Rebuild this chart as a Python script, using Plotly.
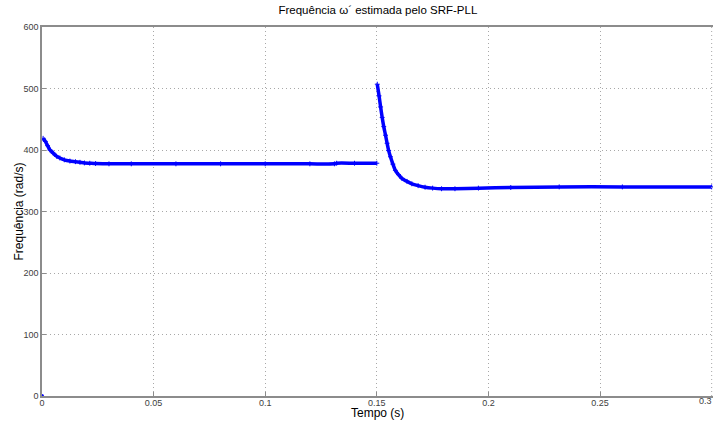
import plotly.graph_objects as go

# Segment 1 (before the step) : time (s) and estimated frequency (rad/s)
t1 = [0.0005, 0.0015, 0.0025, 0.0036, 0.0050, 0.0065, 0.0080, 0.0100, 0.0125, 0.0150,
      0.0170, 0.0190, 0.0214, 0.0240, 0.0300, 0.0400, 0.0600, 0.0800, 0.1000, 0.1200,
      0.1310, 0.1320, 0.1400, 0.1500]
v1 = [419, 414, 407, 400, 395, 390, 387, 384, 382, 381,
      380, 379, 378.5, 378, 377.5, 377.5, 377.5, 377.5, 377.5, 377.5,
      377.5, 378.5, 378.5, 378.5]

# Segment 2 (after the step)
t2 = [0.1502, 0.1510, 0.1517, 0.1524, 0.1531, 0.1539, 0.1546, 0.1553, 0.1561, 0.1572,
      0.1583, 0.1597, 0.1612, 0.1635, 0.1657, 0.1685, 0.1716, 0.1750, 0.1790, 0.1850,
      0.1955, 0.2100, 0.2317, 0.2600, 0.3000]
v2 = [507, 488, 470, 453, 438, 424, 411, 399, 389, 377,
      367, 360, 354, 349, 345, 342, 339.5, 338, 337, 337,
      338, 339, 340, 340, 340]

# isolated first sample at the origin
t0 = [0.0]
v0 = [0.0]

x_ticks = [0, 0.05, 0.1, 0.15, 0.2, 0.25]
x_tick_text = ["0", "0.05", "0.1", "0.15", "0.2", "0.25"]
x_last_tick = 0.3
x_last_text = "0.3"
y_ticks = [0, 100, 200, 300, 400, 500, 600]

blue = "#0000ff"
fig = go.Figure()
for t, v in ((t1, v1), (t2, v2)):
    fig.add_trace(go.Scatter(x=t, y=v, mode="lines+markers",
                             line=dict(color=blue, width=3.5, shape="spline", smoothing=0.6),
                             marker=dict(color=blue, size=3.5, symbol="cross-thin",
                                         line=dict(color=blue, width=1)),
                             showlegend=False, hoverinfo="skip"))
fig.add_trace(go.Scatter(x=t0, y=v0, mode="markers",
                         marker=dict(color=blue, size=4), showlegend=False,
                         cliponaxis=False, hoverinfo="skip"))

font = "Liberation Sans, Arial, sans-serif"
fig.update_layout(
    width=713, height=421,
    margin=dict(l=42, r=0, t=27, b=25),
    paper_bgcolor="white", plot_bgcolor="white",
    font=dict(family=font, color="#000000"),
    title=dict(text="Frequência ω´ estimada pelo SRF-PLL", x=0.53, xanchor="center",
               y=0.985, yanchor="top", font=dict(size=11.5, family=font, color="#000")),
    xaxis=dict(range=[0, 0.3006], tickvals=x_ticks, ticktext=x_tick_text,
               showgrid=True, gridcolor="#a8a8a8", griddash="1px,3px", gridwidth=1,
               showline=True, linecolor="#8c8c8c", linewidth=1.5, mirror=True,
               ticks="inside", ticklen=4, tickcolor="#8c8c8c", zeroline=False,
               ticklabelstandoff=-3,
               tickfont=dict(size=9, color="#404040")),
    yaxis=dict(range=[0, 600], tickvals=y_ticks,
               showgrid=True, gridcolor="#a8a8a8", griddash="1px,3px", gridwidth=1,
               showline=True, linecolor="#8c8c8c", linewidth=1.5, mirror=False,
               ticks="inside", ticklen=4, tickcolor="#8c8c8c", zeroline=False,
               tickfont=dict(size=9, color="#404040")),
    annotations=[
        dict(text="Tempo (s)", xref="paper", yref="paper", x=0.5, y=0,
             xanchor="center", yanchor="middle", yshift=-17, showarrow=False,
             font=dict(size=12, family=font, color="#000")),
        dict(text="Frequência (rad/s)", xref="paper", yref="paper", x=0, y=0.5,
             xanchor="center", yanchor="middle", xshift=-24, textangle=-90,
             showarrow=False, font=dict(size=12, family=font, color="#000")),
        dict(text=x_last_text, xref="x", yref="paper", x=x_last_tick, y=0,
             xanchor="right", yanchor="top", yshift=2, xshift=2, showarrow=False,
             font=dict(size=9, family=font, color="#404040")),
    ],
)
fig.add_shape(type="line", xref="x", yref="paper", x0=x_last_tick, x1=x_last_tick,
              y0=0, y1=1, line=dict(color="#a8a8a8", width=1, dash="1px,3px"))
fig.write_html("out.html")
